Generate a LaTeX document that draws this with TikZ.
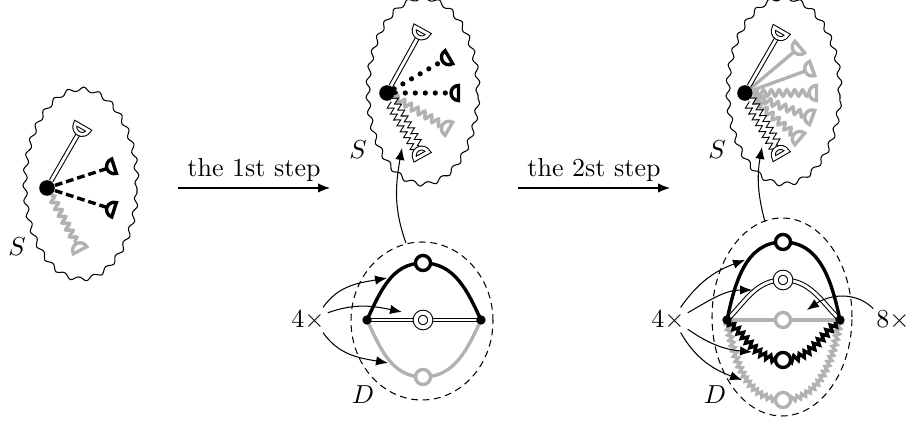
\documentclass[tikz,border=0pt]{standalone}
\usetikzlibrary{decorations.pathmorphing,arrows.meta,calc}
\definecolor{lg}{gray}{0.7}
\newcommand\cupat[3]{\draw[#1,shift={(#2)},rotate=#3] (7.5,7.5) arc[start angle=90,end angle=270,radius=7.5] -- cycle;}
\tikzset{
  wavyell/.style={decorate,decoration={snake,segment length=6pt,amplitude=0.8pt}},
  vtx/.style={circle,fill=black,inner sep=0pt,minimum size=6pt},
  svtx/.style={circle,fill=black,inner sep=0pt,minimum size=3.6pt},
  dbl/.style={draw=black,double=white,double distance=1.1pt,line width=0.4pt},
  dshleg/.style={line width=1.3pt,dash pattern=on 3pt off 1.5pt},
  dotleg/.style={line width=2pt,line cap=round,dash pattern=on 0pt off 3.85pt},
  thk/.style={line width=1.3pt},
  gthk/.style={draw=lg,line width=1.3pt},
  gwavy/.style={gthk,decorate,decoration={snake,segment length=3pt,amplitude=1.2pt}},
  zdbl/.style={dbl,decorate,decoration={zigzag,segment length=2.6pt,amplitude=1.2pt}},
  zthk/.style={thk,decorate,decoration={zigzag,segment length=2.4pt,amplitude=1.1pt}},
  gzig/.style={gthk,decorate,decoration={zigzag,segment length=2.1pt,amplitude=0.8pt}},
  bcup/.style={thk,fill=white},
  gcup/.style={gthk,fill=white},
  dcup/.style={dbl,fill=white},
  ring/.style={circle,draw,fill=white,line width=1.3pt,inner sep=0pt,minimum size=5.8pt},
  gring/.style={ring,draw=lg},
  dring/.style={circle,dbl,double distance=1.5pt,fill=white,inner sep=0pt,minimum size=5.6pt},
  arr/.style={-{Latex[length=4.6pt,width=3.6pt]}},
  dsh/.style={dash pattern=on 2.6pt off 1.8pt},
  lab/.style={inner sep=1pt}
}
\begin{document}
\begin{tikzpicture}[x=0.385pt,y=0.385pt]
\useasboundingbox (0,0) rectangle (913,425);

% ---------- panel 1 ----------
\draw[wavyell] (81,237) ellipse [x radius=56,y radius=95];
\node[vtx] (V1) at (47,237) {};
\coordinate (p1a) at ($(V1)+(60:63)$);
\coordinate (p1b) at ($(V1)+(18:63)$);
\coordinate (p1c) at ($(V1)+(-18:63)$);
\coordinate (p1d) at ($(V1)+(-62:63)$);
\draw[dbl] (V1) -- (p1a); \cupat{dcup}{p1a}{60}
\draw[dshleg] (V1) -- (p1b); \cupat{bcup}{p1b}{18}
\draw[dshleg] (V1) -- (p1c); \cupat{bcup}{p1c}{-18}
\draw[gwavy] (V1) -- (p1d); \cupat{gcup}{p1d}{-62}
\node (S1) at (17,178) {$S$};

% ---------- step arrows ----------
\coordinate (s1a) at (178,237); \coordinate (s1b) at (330,237);
\draw[arr] (s1a) -- (s1b);
\node (t1) at (254,255) {the 1st step};
\coordinate (s2a) at (518,237); \coordinate (s2b) at (670,237);
\draw[arr] (s2a) -- (s2b);
\node (t2) at (594,255) {the 2st step};

% ---------- panel 2 ----------
\draw[wavyell] (423,330) ellipse [x radius=55,y radius=93];
\node[vtx] (V2) at (387,332) {};
\coordinate (p2a) at ($(V2)+(61:64)$);
\coordinate (p2b) at ($(V2)+(30:64)$);
\coordinate (p2c) at ($(V2)+(0:64)$);
\coordinate (p2d) at ($(V2)+(-30:64)$);
\coordinate (p2e) at ($(V2)+(-61:64)$);
\draw[dbl] (V2) -- (p2a); \cupat{dcup}{p2a}{61}
\draw[dotleg] (V2) -- (p2b); \cupat{bcup}{p2b}{30}
\draw[dotleg] (V2) -- (p2c); \cupat{bcup}{p2c}{0}
\draw[gwavy] (V2) -- (p2d); \cupat{gcup}{p2d}{-30}
\draw[zdbl] (V2) -- (p2e); \cupat{dcup}{p2e}{-61}
\node (S2) at (358,275) {$S$};

% ---------- panel 3 ----------
\draw[wavyell] (784,330) ellipse [x radius=56,y radius=93];
\node[vtx] (V3) at (745,332) {};
\coordinate (p3a) at ($(V3)+(60:64)$);
\coordinate (p3b) at ($(V3)+(40:64)$);
\coordinate (p3c) at ($(V3)+(20:64)$);
\coordinate (p3d) at ($(V3)+(0:64)$);
\coordinate (p3e) at ($(V3)+(-20:64)$);
\coordinate (p3f) at ($(V3)+(-40:64)$);
\coordinate (p3g) at ($(V3)+(-60:64)$);
\draw[gthk] (V3) -- (p3b); \cupat{gcup}{p3b}{40}
\draw[gthk] (V3) -- (p3c); \cupat{gcup}{p3c}{20}
\draw[gwavy] (V3) -- (p3d); \cupat{gcup}{p3d}{0}
\draw[gwavy] (V3) -- (p3e); \cupat{gcup}{p3e}{-20}
\draw[gwavy] (V3) -- (p3f); \cupat{gcup}{p3f}{-40}
\draw[dbl] (V3) -- (p3a); \cupat{dcup}{p3a}{60}
\draw[zdbl] (V3) -- (p3g); \cupat{dcup}{p3g}{-60}
\node (S3) at (717,275) {$S$};

% ---------- D in panel 2 ----------
\draw[dsh] (422,104) ellipse [x radius=71,y radius=79];
\coordinate (a2) at (367,105); \coordinate (b2) at (481,105);
\coordinate (t2c) at (423,162); \coordinate (m2c) at (423,105); \coordinate (g2c) at (423,48);
\draw[thk] (a2) to[out=65,in=180] (t2c) to[out=0,in=115] (b2);
\draw[dbl] (a2) -- (b2);
\draw[gthk] (a2) to[out=-65,in=180] (g2c) to[out=0,in=-115] (b2);
\node[ring] (R2t) at (t2c) {};
\node[dring] (R2m) at (m2c) {};
\node[gring] (R2g) at (g2c) {};
\node[svtx] (A2) at (a2) {};
\node[svtx] (B2) at (b2) {};
\node[lab] (f2) at (308,105) {$4\times$};
\coordinate (h2a) at (387,147); \coordinate (h2b) at (402,113); \coordinate (h2c) at (388,62);
\draw[arr] (f2.40) to[out=55,in=190] (h2a);
\draw[arr] (f2.20) to[out=20,in=168] (h2b);
\draw[arr] (f2.-40) to[out=-55,in=170] (h2c);
\node (d2) at (363,30) {$D$};
\coordinate (u2a) at (406,182); \coordinate (u2b) at (402,277);
\draw[arr] (u2a) to[out=110,in=-100] (u2b);

% ---------- D in panel 3 ----------
\draw[dsh] (782,108) ellipse [x radius=70,y radius=99];
\coordinate (a3) at (727,105); \coordinate (b3) at (840,105);
\coordinate (t3c) at (783,183); \coordinate (q3c) at (783,145);
\coordinate (m3c) at (783,105); \coordinate (z3c) at (783,65); \coordinate (w3c) at (783,25);
\draw[gzig] (a3) to[out=-80,in=180] (w3c) to[out=0,in=-100] (b3);
\draw[zthk] (a3) to[out=-40,in=180] (z3c) to[out=0,in=-140] (b3);
\draw[gthk] (a3) -- (b3);
\draw[dbl] (a3) to[out=45,in=180] (q3c) to[out=0,in=135] (b3);
\draw[thk] (a3) to[out=78,in=180] (t3c) to[out=0,in=102] (b3);
\node[ring] (R3t) at (t3c) {};
\node[dring] (R3q) at (q3c) {};
\node[gring] (R3m) at (m3c) {};
\node[ring] (R3z) at (z3c) {};
\node[gring] (R3w) at (w3c) {};
\node[svtx] (A3) at (a3) {};
\node[svtx] (B3) at (b3) {};
\node[lab] (f3) at (668,105) {$4\times$};
\node[lab] (e3) at (893,105) {$8\times$};
\coordinate (h3a) at (745,165); \coordinate (h3b) at (752,135);
\coordinate (h3c) at (752,73); \coordinate (h3d) at (742,45);
\draw[arr] (f3.45) to[out=55,in=200] (h3a);
\draw[arr] (f3.20) to[out=30,in=180] (h3b);
\draw[arr] (f3.-25) to[out=-35,in=175] (h3c);
\draw[arr] (f3.-45) to[out=-60,in=160] (h3d);
\coordinate (h3e) at (807,115);
\draw[arr] (e3.150) to[out=135,in=35] (h3e);
\node (d3) at (715,30) {$D$};
\coordinate (u3a) at (765,203); \coordinate (u3b) at (762,278);
\draw[arr] (u3a) to[out=105,in=-100] (u3b);
\end{tikzpicture}
\end{document}
